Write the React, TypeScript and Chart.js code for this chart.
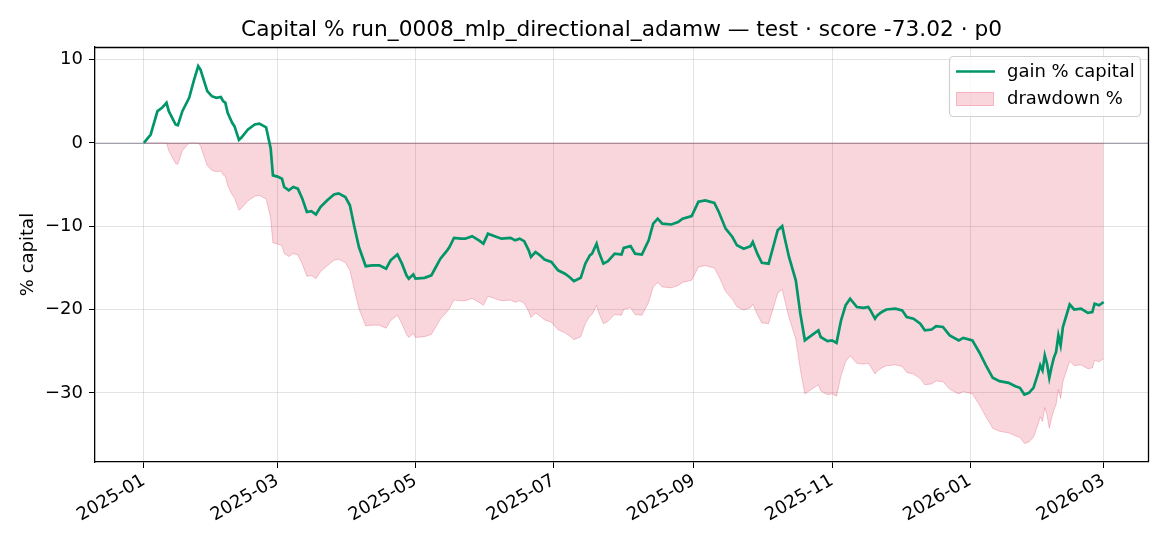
import React, { useEffect, useRef } from "react";
import { Chart, registerables } from "chart.js";

Chart.register(...registerables);

const TITLE = "Capital % run_0008_mlp_directional_adamw \u2014 test \u00b7 score -73.02 \u00b7 p0";
const Y_LABEL = "% capital";
const LEGEND_LABELS = ["gain % capital", "drawdown %"];

// day offsets from 2025-01-01
const DAYS = [
  0, 3, 6, 8, 10, 11, 14, 15, 17, 20, 22, 24, 25, 28, 30, 32, 34, 35, 36, 37, 39, 40, 42, 43, 46, 49, 51, 54, 56, 57,
  59, 61, 62, 64, 66, 68, 70, 72, 74, 76, 78, 81, 84, 86, 89, 91, 93, 95, 98, 101, 104, 107, 109, 112, 114, 116, 117,
  119, 120, 124, 127, 129, 131, 134, 135, 137, 140, 142, 145, 148, 150, 152, 155, 158, 162, 164, 166, 168, 170, 171,
  173, 175, 177, 180, 183, 186, 188, 190, 193, 195, 197, 198, 200, 201, 203, 205, 208, 211, 212, 215, 217, 220, 223,
  225, 227, 229, 233, 236, 238, 242, 245, 248, 252, 254, 257, 260, 262, 265, 268, 269, 271, 273, 276, 278, 280, 282,
  283, 285, 288, 290, 292, 293, 296, 298, 299, 302, 304, 306, 308, 310, 312, 315, 318, 320, 321, 323, 324, 326, 328,
  332, 335, 337, 340, 343, 345, 348, 350, 353, 356, 360, 362, 366, 369, 372, 375, 378, 382, 385, 387, 389, 391, 393,
  395, 396, 397, 398, 399, 400, 401, 402, 403, 404, 405, 406, 408, 409, 411, 414, 417, 419, 420, 422, 424,
];

const GAIN = [
  0, 1.0, 3.8, 4.2, 4.8, 3.8, 2.2, 2.1, 3.8, 5.4, 7.4, 9.2, 8.8, 6.2, 5.6, 5.4, 5.5, 5.0, 4.8, 3.6, 2.4, 2.0, 0.36, 0.6,
  1.6, 2.2, 2.3, 1.85, -0.64, -3.9, -4.05, -4.3, -5.3, -5.7, -5.3, -5.5, -6.7, -8.3, -8.2, -8.6, -7.7, -6.9, -6.2,
  -6.06, -6.5, -7.5, -10.1, -12.5, -14.8, -14.7, -14.7, -15.1, -14.1, -13.4, -14.5, -15.9, -16.3, -15.8, -16.3, -16.2,
  -15.9, -14.9, -13.9, -12.9, -12.5, -11.4, -11.5, -11.5, -11.2, -11.7, -12.1, -10.9, -11.2, -11.5, -11.4, -11.7,
  -11.5, -11.8, -12.9, -13.7, -13.1, -13.5, -14.0, -14.3, -15.3, -15.7, -16.1, -16.6, -16.2, -14.5, -13.5, -13.3,
  -12.1, -13.1, -14.5, -14.2, -13.3, -13.4, -12.6, -12.4, -13.3, -13.4, -11.7, -9.7, -9.1, -9.7, -9.8, -9.5, -9.1,
  -8.8, -7.07, -6.9, -7.2, -8.3, -10.3, -11.3, -12.3, -12.7, -12.4, -11.9, -13.3, -14.4, -14.5, -12.5, -10.5, -10.0,
  -11.3, -13.7, -16.5, -20.5, -23.7, -23.5, -22.9, -22.5, -23.3, -23.8, -23.7, -24.0, -21.3, -19.5, -18.7, -19.7,
  -19.8, -19.7, -20.1, -21.1, -20.7, -20.3, -20.0, -19.9, -20.1, -20.9, -21.1, -21.7, -22.5, -22.4, -22.0, -22.1,
  -23.1, -23.7, -23.4, -23.7, -25.1, -26.7, -28.2, -28.6, -28.8, -29.2, -29.4, -30.2, -30.0, -29.4, -27.7, -26.7,
  -27.3, -25.5, -26.5, -28.2, -26.9, -25.8, -25.1, -23.1, -24.3, -22.1, -20.3, -19.4, -20.0, -19.9, -20.4, -20.3,
  -19.3, -19.5, -19.1,
];

const DRAWDOWN = [
  0, 0, 0, 0, 0, -0.95, -2.48, -2.58, -0.95, 0, 0, 0, -0.37, -2.74, -3.29, -3.47, -3.38, -3.84, -4.02, -5.12, -6.22,
  -6.59, -8.09, -7.87, -6.95, -6.41, -6.31, -6.73, -9.01, -11.99, -12.13, -12.36, -13.27, -13.64, -13.27, -13.46,
  -14.56, -16.02, -15.93, -16.3, -15.47, -14.74, -14.1, -13.97, -14.37, -15.29, -17.67, -19.87, -21.97, -21.88, -21.88,
  -22.25, -21.33, -20.69, -21.7, -22.98, -23.35, -22.89, -23.35, -23.26, -22.98, -22.07, -21.15, -20.23, -19.87,
  -18.86, -18.95, -18.95, -18.68, -19.13, -19.5, -18.4, -18.68, -18.95, -18.86, -19.13, -18.95, -19.23, -20.23,
  -20.97, -20.42, -20.78, -21.24, -21.52, -22.43, -22.8, -23.16, -23.62, -23.26, -21.7, -20.78, -20.6, -19.5, -20.42,
  -21.7, -21.42, -20.6, -20.69, -19.96, -19.78, -20.6, -20.69, -19.13, -17.3, -16.75, -17.3, -17.39, -17.12, -16.75,
  -16.48, -14.89, -14.74, -15.01, -16.02, -17.85, -18.77, -19.68, -20.05, -19.78, -19.32, -20.6, -21.61, -21.7,
  -19.87, -18.04, -17.58, -18.77, -20.97, -23.53, -27.19, -30.12, -29.94, -29.39, -29.03, -29.76, -30.22, -30.12,
  -30.4, -27.93, -26.28, -25.55, -26.46, -26.55, -26.46, -26.83, -27.74, -27.38, -27.01, -26.74, -26.64, -26.83,
  -27.56, -27.74, -28.29, -29.03, -28.93, -28.57, -28.66, -29.58, -30.12, -29.85, -30.12, -31.41, -32.87, -34.25,
  -34.61, -34.8, -35.16, -35.34, -36.08, -35.89, -35.34, -33.79, -32.87, -33.42, -31.77, -32.69, -34.25, -33.06,
  -32.05, -31.41, -29.58, -30.67, -28.66, -27.01, -26.19, -26.74, -26.64, -27.1, -27.01, -26.09, -26.28, -25.91,
];

const X_TICK_DAYS = [0, 59, 120, 181, 243, 304, 365, 424];
const X_TICK_LABELS = ["2025-01", "2025-03", "2025-05", "2025-07", "2025-09", "2025-11", "2026-01", "2026-03"];
const Y_TICKS = [-30, -20, -10, 0, 10];

const FONT = '"DejaVu Sans", "Liberation Sans", sans-serif';
const TICK_SIZE = 18;
const TITLE_SIZE = 21.7;
const GREEN = "#00966a";
const FILL = "rgba(220, 20, 60, 0.18)";
const FILL_EDGE = "rgba(220, 20, 60, 0.22)";

const fmt = (v: number) => (v < 0 ? "\u2212" + Math.abs(v) : String(v));

const decorPlugin = {
  id: "decor",
  beforeDatasetsDraw(chart: any) {
    const { ctx, chartArea } = chart;
    const y0 = Math.round(chart.scales.y.getPixelForValue(0)) + 0.5;
    ctx.save();
    ctx.strokeStyle = "rgba(110, 110, 130, 0.65)";
    ctx.lineWidth = 1.2;
    ctx.beginPath();
    ctx.moveTo(chartArea.left, y0);
    ctx.lineTo(chartArea.right, y0);
    ctx.stroke();
    ctx.restore();
  },
  afterDraw(chart: any) {
    const { ctx, chartArea } = chart;
    const { left, right, top, bottom } = chartArea;
    ctx.save();
    // top/right spines
    ctx.strokeStyle = "#000";
    ctx.lineWidth = 1.3;
    ctx.beginPath();
    ctx.moveTo(left, Math.round(top) + 0.5);
    ctx.lineTo(Math.round(right) + 0.5, Math.round(top) + 0.5);
    ctx.lineTo(Math.round(right) + 0.5, bottom);
    ctx.stroke();

    // title
    ctx.fillStyle = "#000";
    ctx.font = `${TITLE_SIZE}px ${FONT}`;
    ctx.textAlign = "center";
    ctx.textBaseline = "alphabetic";
    ctx.fillText(TITLE, (left + right) / 2, 36);

    // y label
    ctx.save();
    ctx.translate(28, (top + bottom) / 2);
    ctx.rotate(-Math.PI / 2);
    ctx.font = `${TICK_SIZE}px ${FONT}`;
    ctx.textBaseline = "middle";
    ctx.textAlign = "center";
    ctx.fillText(Y_LABEL, 0, 0);
    ctx.restore();

    // legend
    const lx = 949.5, ly = 56.5, lw = 191, lh = 60;
    ctx.beginPath();
    ctx.roundRect(lx, ly, lw, lh, 4);
    ctx.fillStyle = "rgba(255,255,255,0.8)";
    ctx.fill();
    ctx.strokeStyle = "#d0d0d0";
    ctx.lineWidth = 1.2;
    ctx.stroke();

    ctx.strokeStyle = GREEN;
    ctx.lineWidth = 2.7;
    ctx.beginPath();
    ctx.moveTo(956, 71.5);
    ctx.lineTo(995, 71.5);
    ctx.stroke();

    ctx.fillStyle = FILL;
    ctx.fillRect(956.5, 92.5, 37, 13);
    ctx.strokeStyle = "rgba(220, 20, 60, 0.25)";
    ctx.lineWidth = 1;
    ctx.strokeRect(956.5, 92.5, 37, 13);

    ctx.fillStyle = "#000";
    ctx.font = `${TICK_SIZE}px ${FONT}`;
    ctx.textAlign = "left";
    ctx.textBaseline = "middle";
    ctx.fillText(LEGEND_LABELS[0], 1007, 72);
    ctx.fillText(LEGEND_LABELS[1], 1007, 99);
    ctx.restore();
  },
};

export default function App() {
  const ref = useRef<HTMLCanvasElement>(null);

  useEffect(() => {
    if (!ref.current) return;
    const gainData = DAYS.map((d, i) => ({ x: d, y: GAIN[i] }));
    const ddData = DAYS.map((d, i) => ({ x: d, y: DRAWDOWN[i] }));

    const chart = new Chart(ref.current, {
      type: "line",
      data: {
        datasets: [
          {
            label: LEGEND_LABELS[0],
            data: gainData,
            borderColor: GREEN,
            borderWidth: 2.7,
            pointRadius: 0,
            tension: 0,
            fill: false,
            order: 0,
          },
          {
            label: LEGEND_LABELS[1],
            data: ddData,
            borderColor: FILL_EDGE,
            backgroundColor: FILL,
            borderWidth: 1,
            pointRadius: 0,
            tension: 0,
            fill: "origin",
            order: 1,
          },
        ],
      },
      options: {
        responsive: false,
        animation: false,
        devicePixelRatio: 1,
        layout: { padding: { top: 47, right: 22, left: 0, bottom: 0 } },
        plugins: {
          legend: { display: false },
          title: { display: false },
          tooltip: { enabled: false },
        },
        scales: {
          x: {
            type: "linear",
            min: -21.6,
            max: 443.6,
            afterFit: (s: any) => {
              s.height = 84;
            },
            afterBuildTicks: (s: any) => {
              s.ticks = X_TICK_DAYS.map((v) => ({ value: v }));
            },
            border: { display: true, color: "#000", width: 1.3 },
            grid: {
              color: "rgba(176,176,176,0.35)",
              lineWidth: 1,
              tickColor: "#000",
              tickLength: 6,
              drawTicks: true,
            },
            ticks: {
              autoSkip: false,
              minRotation: 30,
              maxRotation: 30,
              padding: 2,
              color: "#000",
              font: { family: FONT, size: TICK_SIZE },
              callback: (v: any) => {
                const i = X_TICK_DAYS.indexOf(Number(v));
                return i >= 0 ? X_TICK_LABELS[i] : "";
              },
            },
          },
          y: {
            type: "linear",
            min: -38.3,
            max: 11.5,
            afterFit: (s: any) => {
              s.width = 95;
            },
            afterBuildTicks: (s: any) => {
              s.ticks = Y_TICKS.map((v) => ({ value: v }));
            },
            border: { display: true, color: "#000", width: 1.3 },
            grid: {
              color: "rgba(176,176,176,0.35)",
              lineWidth: 1,
              tickColor: "#000",
              tickLength: 6,
              drawTicks: true,
            },
            ticks: {
              padding: 6,
              color: "#000",
              font: { family: FONT, size: TICK_SIZE },
              callback: (v: any) => fmt(Number(v)),
            },
          },
        },
      },
      plugins: [decorPlugin],
    });
    return () => chart.destroy();
  }, []);

  return (
    <div style={{ position: "absolute", left: 0, top: 0, width: 1170, height: 546, background: "#fff" }}>
      <canvas ref={ref} width={1170} height={546} style={{ display: "block", width: 1170, height: 546 }} />
    </div>
  );
}
